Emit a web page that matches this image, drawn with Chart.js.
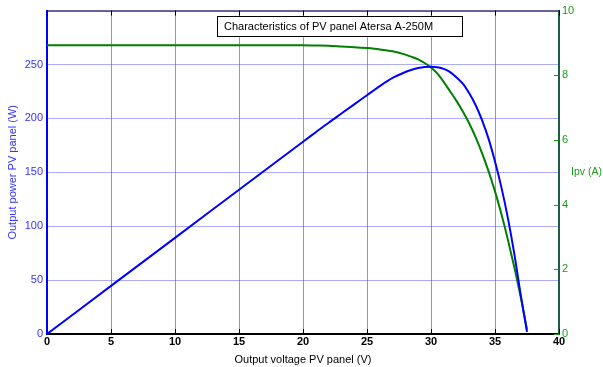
<!DOCTYPE html>
<html>
<head>
<meta charset="utf-8">
<script src="https://cdn.jsdelivr.net/npm/chart.js@4"></script>
<style>
  html, body { margin: 0; padding: 0; background: #fff; }
  #wrap { width: 603px; height: 367px; position: relative; }
</style>
</head>
<body>
<div id="wrap"><canvas id="pvChart"></canvas></div>
<script>
// Données
const voltage = [0, 5, 10, 15, 20, 21, 22, 23, 24, 25, 26, 27, 28, 28.5, 29, 29.5, 30, 30.5, 31, 31.5, 32, 32.5, 33, 33.5, 34, 34.5, 35, 35.5, 36, 36.5, 37, 37.5];
const power = [0, 44.6, 89.2, 133.8, 178.4, 187.2, 196, 204.5, 213, 221.5, 230, 237.5, 243, 245.2, 246.8, 247.7, 248, 247.5, 246, 243, 238, 232, 223, 212, 198, 181, 160, 136, 108, 75, 37, 2];
const current = [8.93, 8.93, 8.93, 8.93, 8.93, 8.92, 8.91, 8.89, 8.87, 8.84, 8.8, 8.74, 8.64, 8.57, 8.49, 8.38, 8.24, 8.05, 7.79, 7.5, 7.2, 6.87, 6.5, 6.07, 5.58, 5.03, 4.41, 3.71, 2.93, 2.08, 1.16, 0.14];
const xTicks = [0, 5, 10, 15, 20, 25, 30, 35, 40];
const powerTicks = [0, 50, 100, 150, 200, 250, 300];
const currentTicks = [0, 2, 4, 6, 8, 10];

const chartTitle = "Characteristics of PV panel Atersa A-250M";
const FONT = "'Liberation Sans', Arial, sans-serif";

// Titre encadré, libellé Ipv (A), bordure haute et petits traits de graduation
const decorPlugin = {
  id: "decor",
  afterDraw(chart) {
    const { ctx, chartArea: a, scales } = chart;
    ctx.save();
    // bordure du haut
    ctx.strokeStyle = "#000";
    ctx.lineWidth = 1;
    ctx.beginPath();
    ctx.moveTo(a.left, a.top + 0.5);
    ctx.lineTo(a.right, a.top + 0.5);
    ctx.stroke();
    // graduations x vers l'intérieur
    xTicks.forEach((v) => {
      const x = Math.round(scales.x.getPixelForValue(v)) + 0.5;
      ctx.beginPath();
      ctx.moveTo(x, a.bottom);
      ctx.lineTo(x, a.bottom - 5);
      ctx.moveTo(x, a.top);
      ctx.lineTo(x, a.top + 5);
      ctx.stroke();
    });
    // graduations de droite (vertes)
    ctx.strokeStyle = "#1a9a1a";
    currentTicks.forEach((v) => {
      const y = Math.round(scales.y2.getPixelForValue(v)) + 0.5;
      ctx.beginPath();
      ctx.moveTo(a.right - 5, y);
      ctx.lineTo(a.right, y);
      ctx.stroke();
    });
    // boîte du titre
    ctx.fillStyle = "#fff";
    ctx.fillRect(217, 16, 246, 21);
    ctx.strokeStyle = "#000";
    ctx.strokeRect(217.5, 16.5, 245, 20);
    ctx.fillStyle = "#000";
    ctx.font = "11px " + FONT;
    ctx.textBaseline = "middle";
    ctx.textAlign = "left";
    ctx.fillText(chartTitle, 224, 27);
    // titre de l'axe de droite
    ctx.fillStyle = "#1a9a1a";
    ctx.font = "10.5px " + FONT;
    ctx.fillText("Ipv (A)", 571, 172);
    ctx.restore();
  },
};

new Chart(document.getElementById("pvChart"), {
  type: "line",
  data: {
    datasets: [
      {
        label: "Power",
        data: voltage.map((v, i) => ({ x: v, y: power[i] })),
        yAxisID: "y",
        borderColor: "#0000ff",
        borderWidth: 2,
        pointRadius: 0,
        cubicInterpolationMode: "monotone",
        fill: false,
      },
      {
        label: "Ipv",
        data: voltage.map((v, i) => ({ x: v, y: current[i] })),
        yAxisID: "y2",
        borderColor: "#008000",
        borderWidth: 2,
        pointRadius: 0,
        cubicInterpolationMode: "monotone",
        fill: false,
      },
    ],
  },
  plugins: [decorPlugin],
  options: {
    responsive: true,
    maintainAspectRatio: false,
    animation: false,
    layout: { padding: { top: 10, left: 0, right: 0, bottom: 0 } },
    plugins: { legend: { display: false }, tooltip: { enabled: false } },
    scales: {
      x: {
        type: "linear",
        min: 0,
        max: 40,
        afterBuildTicks: (s) => { s.ticks = xTicks.map((v) => ({ value: v })); },
        afterFit: (s) => { s.height = 33; },
        ticks: { color: "#000", font: { family: FONT, size: 11, weight: "bold" }, padding: 1, maxRotation: 0 },
        grid: { color: "#999", lineWidth: 1, tickLength: 0 },
        border: { color: "#000", width: 2 },
        title: { display: true, text: "Output voltage PV panel (V)", color: "#000", font: { family: FONT, size: 11 }, padding: { top: 3, bottom: 0 } },
      },
      y: {
        position: "left",
        min: 0,
        max: 300,
        afterBuildTicks: (s) => { s.ticks = powerTicks.map((v) => ({ value: v })); },
        afterFit: (s) => { s.width = 47; },
        ticks: {
          color: "#3333ff",
          font: { family: FONT, size: 11 },
          padding: 4,
          callback: (v) => (v === 300 ? "" : v),
        },
        grid: { color: "rgba(90,90,255,0.5)", lineWidth: 1, tickLength: 0 },
        border: { color: "#0000ff", width: 2 },
        title: { display: true, text: "Output power PV panel (W)", color: "#3333ff", font: { family: FONT, size: 11 }, padding: { top: 6, bottom: 0 } },
      },
      y2: {
        position: "right",
        min: 0,
        max: 10,
        afterBuildTicks: (s) => { s.ticks = currentTicks.map((v) => ({ value: v })); },
        afterFit: (s) => { s.width = 44; },
        ticks: { color: "#1a9a1a", font: { family: FONT, size: 11 }, padding: 3 },
        grid: { drawOnChartArea: false, tickLength: 0 },
        border: { color: "#1b5e45", width: 2 },
      },
    },
  },
});
</script>
</body>
</html>
